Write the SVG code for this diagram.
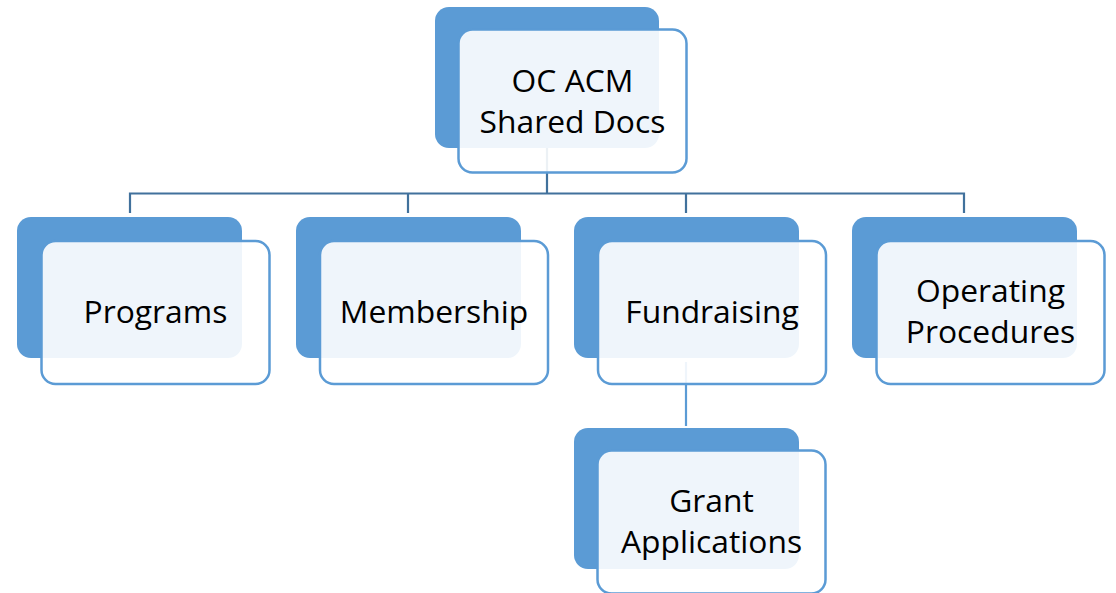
<svg xmlns="http://www.w3.org/2000/svg" width="1116" height="593" viewBox="0 0 1116 593">
<style>
.back{fill:#5B9BD5;}
.front{fill:#FFFFFF;fill-opacity:0.9;stroke:#5B9BD5;stroke-width:2.5;}
.conn{fill:none;stroke:#41719C;stroke-width:2.2;}
.conn2{fill:none;stroke:#5B9BD5;stroke-width:2.2;}
.lbl{font-family:"Open Sans","Noto Sans","Liberation Sans",sans-serif;font-size:31.8px;fill:#000;text-anchor:middle;}
</style>
<rect width="1116" height="593" fill="#FFFFFF"/>
<g id="connectors">
<path class="conn" d="M547 148 V193.5 M130 213 V193.5 H964 V213 M408 193.5 V213 M686 193.5 V213"/>
<path class="conn2" d="M686 362 V426"/>
</g>
<g id="node-root">
<rect class="back" x="435" y="7" width="224" height="141" rx="14"/>
<rect class="front" x="458.5" y="29.5" width="228" height="143" rx="14"/>
<text class="lbl" x="572.5" y="92">OC ACM</text>
<text class="lbl" x="572.5" y="133">Shared Docs</text>
</g>
<g id="node-programs">
<rect class="back" x="17" y="217" width="225" height="141" rx="14"/>
<rect class="front" x="41.5" y="241" width="228" height="143" rx="14"/>
<text class="lbl" x="155.5" y="323">Programs</text>
</g>
<g id="node-membership">
<rect class="back" x="296" y="217" width="225" height="141" rx="14"/>
<rect class="front" x="320" y="241" width="228" height="143" rx="14"/>
<text class="lbl" x="434" y="323">Membership</text>
</g>
<g id="node-fundraising">
<rect class="back" x="574" y="217" width="225" height="141" rx="14"/>
<rect class="front" x="598" y="241" width="228" height="143" rx="14"/>
<text class="lbl" x="712" y="323">Fundraising</text>
</g>
<g id="node-operating">
<rect class="back" x="852" y="217" width="225" height="141" rx="14"/>
<rect class="front" x="876.5" y="241" width="228" height="143" rx="14"/>
<text class="lbl" x="990.5" y="302">Operating</text>
<text class="lbl" x="990.5" y="343">Procedures</text>
</g>
<g id="node-grant">
<rect class="back" x="574" y="428" width="225" height="141" rx="14"/>
<rect class="front" x="597.5" y="450.5" width="228" height="143" rx="14"/>
<text class="lbl" x="711.5" y="512">Grant</text>
<text class="lbl" x="711.5" y="553">Applications</text>
</g>
</svg>
